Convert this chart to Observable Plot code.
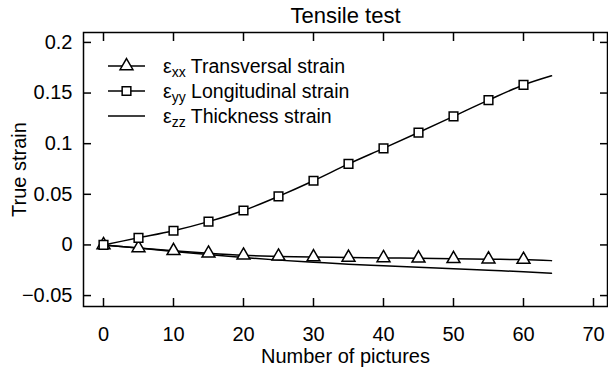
<!DOCTYPE html>
<html>
<head>
<meta charset="utf-8">
<script src="https://cdn.jsdelivr.net/npm/d3@7"></script>
<script src="https://cdn.jsdelivr.net/npm/@observablehq/plot@0.6"></script>
<style>
  body { margin: 0; background: #fff; }
  #chart svg { display: block; }
</style>
</head>
<body>
<div id="chart"></div>
<script>
// Tensile test: true strain components against picture number
const frames       = [0, 5, 10, 15, 20, 25, 30, 35, 40, 45, 50, 55, 60, 64];
const transversal  = [0, -0.003, -0.0058, -0.0083, -0.0103, -0.0113, -0.012, -0.0124, -0.0128, -0.0132, -0.0137, -0.0141, -0.0145, -0.0155];
const longitudinal = [0, 0.007, 0.014, 0.023, 0.034, 0.048, 0.0634, 0.080, 0.0954, 0.111, 0.127, 0.143, 0.158, 0.167];
const thickness    = [0, -0.003, -0.0065, -0.0095, -0.0125, -0.015, -0.017, -0.019, -0.0205, -0.022, -0.0235, -0.025, -0.0265, -0.028];

const xTicks = [0, 10, 20, 30, 40, 50, 60, 70];
const yTicks = [-0.05, 0, 0.05, 0.1, 0.15, 0.2];

const titleText = "Tensile test";
const xLabel = "Number of pictures";
const yLabel = "True strain";
const seriesSubs = ["xx", "yy", "zz"];
const seriesNames = ["Transversal strain", "Longitudinal strain", "Thickness strain"];
const seriesSymbols = ["triangle", "square", null];

const rows = frames.map((f, i) => ({frame: f, xx: transversal[i], yy: longitudinal[i], zz: thickness[i]}));
const marked = rows.filter(d => d.frame % 5 === 0);

const font = "'Liberation Sans', Arial, Helvetica, sans-serif";
const fmtY = d => d === 0 ? "0" : String(d).replace("-", "\u2212");
const blank = () => "";
const sw = 1.5;
const symbolR = {triangle: 4.8, square: 4.9};

const chart = Plot.plot({
  width: 608,
  height: 368,
  marginTop: 32,
  marginRight: 1,
  marginBottom: 62,
  marginLeft: 83,
  style: {fontFamily: font, fontSize: "20px", color: "#000", background: "#fff", overflow: "visible"},
  x: {domain: [-20 / 7, 72]},
  y: {domain: [-0.0608, 0.2098]},
  marks: [
    // inward ticks on all four sides, labels only bottom and left
    Plot.axisX(xTicks, {anchor: "bottom", tickSize: -8, tickPadding: 28, strokeWidth: sw, label: null}),
    Plot.axisX(xTicks, {anchor: "top", tickSize: -8, tickFormat: blank, strokeWidth: sw, label: null}),
    Plot.axisY(yTicks, {anchor: "left", tickSize: -8, tickPadding: 19, tickFormat: fmtY, strokeWidth: sw, label: null}),
    Plot.axisY(yTicks, {anchor: "right", tickSize: -8, tickFormat: blank, strokeWidth: sw, label: null}),

    Plot.line(rows, {x: "frame", y: "zz", curve: "monotone-x", stroke: "#000", strokeWidth: sw}),
    Plot.line(rows, {x: "frame", y: "xx", curve: "monotone-x", stroke: "#000", strokeWidth: sw}),
    Plot.line(rows, {x: "frame", y: "yy", curve: "monotone-x", stroke: "#000", strokeWidth: sw}),
    Plot.dot(marked, {x: "frame", y: "xx", symbol: "triangle", r: symbolR.triangle, fill: "#fff", stroke: "#000", strokeWidth: sw}),
    Plot.dot(marked, {x: "frame", y: "yy", symbol: "square", r: symbolR.square, fill: "#fff", stroke: "#000", strokeWidth: sw}),

    Plot.frame({stroke: "#000", strokeWidth: sw}),

    Plot.text([titleText], {text: d => d, frameAnchor: "top", lineAnchor: "middle", dy: -17, fontSize: 22}),
    Plot.text([xLabel], {text: d => d, frameAnchor: "bottom", lineAnchor: "middle", dy: 50, fontSize: 20}),
    Plot.text([yLabel], {text: d => d, frameAnchor: "left", textAnchor: "middle", lineAnchor: "middle", dx: -64, rotate: -90, fontSize: 20})
  ]
});

document.getElementById("chart").append(chart);

// Key in the upper-left corner of the frame
const svg = d3.select(chart);
const key = svg.append("g")
  .attr("font-family", font).attr("font-size", 19.5)
  .attr("text-anchor", "start").attr("fill", "#000");
const symbolTypes = {triangle: d3.symbolTriangle, square: d3.symbolSquare};
seriesNames.forEach((name, i) => {
  const cy = 66 + 25 * i;
  key.append("line")
    .attr("x1", 108).attr("x2", 145).attr("y1", cy).attr("y2", cy)
    .attr("stroke", "#000").attr("stroke-width", sw);
  const s = seriesSymbols[i];
  if (s) {
    key.append("path")
      .attr("d", d3.symbol(symbolTypes[s], Math.PI * symbolR[s] * symbolR[s])())
      .attr("transform", `translate(126.5,${cy})`)
      .attr("fill", "#fff").attr("stroke", "#000").attr("stroke-width", sw);
  }
  const t = key.append("text").attr("x", 163).attr("y", cy + 7);
  t.append("tspan").text("\u03b5");
  t.append("tspan").attr("font-size", 14).attr("dy", 4).text(seriesSubs[i]);
  t.append("tspan").attr("dy", -4).text(" " + name);
});
</script>
</body>
</html>
